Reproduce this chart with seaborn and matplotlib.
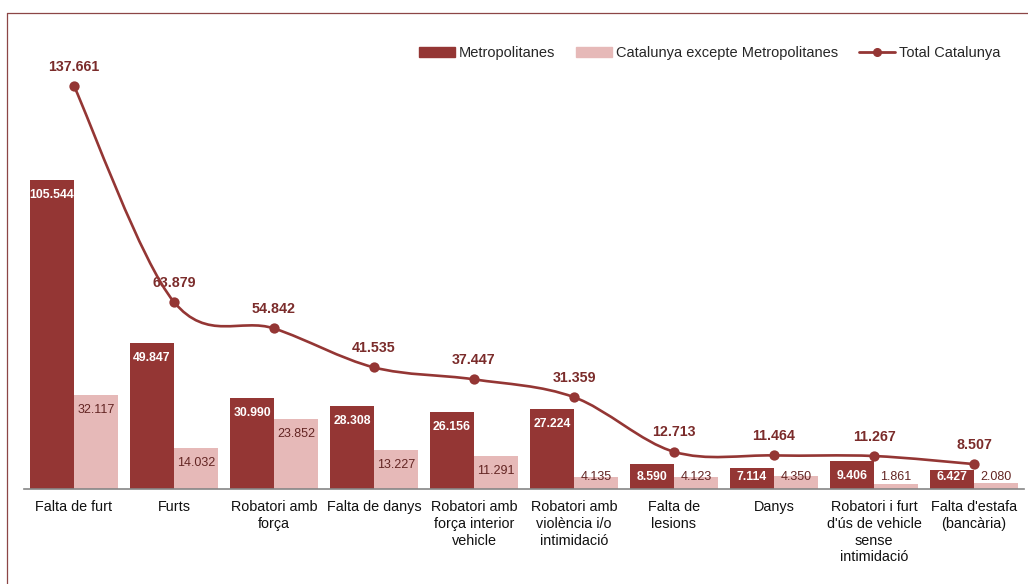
import numpy as np
import pandas as pd
import matplotlib
matplotlib.use("Agg")
import matplotlib.pyplot as plt
from matplotlib.path import Path
from matplotlib.patches import PathPatch, Patch
from matplotlib.lines import Line2D
import seaborn as sns

categories = ["Falta de furt", "Furts", "Robatori amb\nforça", "Falta de danys",
              "Robatori amb\nforça interior\nvehicle", "Robatori amb\nviolència i/o\nintimidació",
              "Falta de\nlesions", "Danys", "Robatori i furt\nd'ús de vehicle\nsense\nintimidació",
              "Falta d'estafa\n(bancària)"]
metropolitanes = [105544, 49847, 30990, 28308, 26156, 27224, 8590, 7114, 9406, 6427]
resta = [32117, 14032, 23852, 13227, 11291, 4135, 4123, 4350, 1861, 2080]
total = [137661, 63879, 54842, 41535, 37447, 31359, 12713, 11464, 11267, 8507]
series_names = ["Metropolitanes", "Catalunya excepte Metropolitanes", "Total Catalunya"]

DARK = "#943634"
LIGHT = "#E6B9B8"
LINE = "#943634"

sns.set_theme(style="white")
plt.rcParams["font.family"] = ["Liberation Sans", "DejaVu Sans"]

W, H = 1028, 584
fig = plt.figure(figsize=(W / 100, H / 100), dpi=100)
ax_left, ax_right, ax_bottom, ax_top = 24, 1024, 489, 30
ax = fig.add_axes([ax_left / W, (H - ax_bottom) / H, (ax_right - ax_left) / W, (ax_bottom - ax_top) / H])
ppu = 309 / 105544.0  # pixels per unit
ymax = (ax_bottom - ax_top) / ppu

def fmt(v):
    return f"{v:,}".replace(",", ".")

df = pd.DataFrame({
    "cat": categories * 2,
    "value": metropolitanes + resta,
    "serie": [series_names[0]] * len(categories) + [series_names[1]] * len(categories),
})
sns.barplot(data=df, x="cat", y="value", hue="serie", order=categories,
            hue_order=series_names[:2], palette=[DARK, LIGHT], saturation=1,
            width=0.88, ax=ax, legend=False, errorbar=None, linewidth=0)

ax.set_xlim(-0.5, len(categories) - 0.5)
ax.set_ylim(0, ymax)

# bar labels
px = 1 / ppu
for ci, cont in enumerate(ax.containers):
    for bar, v in zip(cont, [metropolitanes, resta][ci]):
        xc = bar.get_x() + bar.get_width() / 2
        yl = max(v - 15 * px, 12 * px)
        if ci == 0:
            ax.text(xc, yl, fmt(v), ha="center", va="center", color="white",
                    fontsize=8.8, fontweight="bold")
        else:
            ax.text(xc, yl, fmt(v), ha="center", va="center", color="#632523",
                    fontsize=9)

# smooth total line (Catmull-Rom as cubic Bezier path)
xs = np.arange(len(categories), dtype=float)
ys = np.array(total, dtype=float)
P = np.column_stack([xs, ys])
verts = [P[0]]
codes = [Path.MOVETO]
n = len(P)
for i in range(n - 1):
    p0 = P[i - 1] if i > 0 else P[i]
    p1, p2 = P[i], P[i + 1]
    p3 = P[i + 2] if i + 2 < n else P[i + 1]
    c1 = p1 + (p2 - p0) / 6
    c2 = p2 - (p3 - p1) / 6
    verts += [c1, c2, p2]
    codes += [Path.CURVE4] * 3
ax.add_patch(PathPatch(Path(verts, codes), fill=False, edgecolor=LINE, lw=1.9, zorder=4))
sns.scatterplot(x=xs, y=ys, color=LINE, s=55, edgecolor=LINE, linewidth=0, ax=ax, zorder=5)
for x, v in zip(xs, total):
    ax.annotate(fmt(v), (x, v), xytext=(0, 14), textcoords="offset points",
                ha="center", va="center", fontsize=10.3, fontweight="bold", color="#7B2C2B")

# axes styling
for s in ["top", "right", "left"]:
    ax.spines[s].set_visible(False)
ax.spines["bottom"].set_color("#868686")
ax.spines["bottom"].set_linewidth(1.2)
ax.set_yticks([])
ax.set_xlabel("")
ax.set_ylabel("")
ax.set_xticks(xs)
ax.set_xticklabels(categories, fontsize=10.4, color="#111111", linespacing=1.25)
ax.tick_params(axis="x", which="major", length=0, pad=8)
ax.set_xticks(np.arange(-0.5, len(categories), 1.0), minor=True)
ax.tick_params(axis="x", which="minor", length=5, width=1.1, color="#868686", direction="out")

handles = [Patch(facecolor=DARK, edgecolor=DARK),
           Patch(facecolor=LIGHT, edgecolor=LIGHT),
           Line2D([0], [0], color=LINE, lw=2, marker="o", markersize=5.5)]
fig.legend(handles, series_names, loc="center right", bbox_to_anchor=(1006 / W, 1 - 53 / H),
           ncol=3, frameon=False, fontsize=10.5, handlelength=2.45, handletextpad=0.27,
           columnspacing=1.45, borderaxespad=0)

# frame lines
border = "#8C4646"
fig.add_artist(Line2D([7 / W, 1], [1 - 13 / H, 1 - 13 / H], color=border, lw=0.9, transform=fig.transFigure))
fig.add_artist(Line2D([7 / W, 7 / W], [0, 1 - 13 / H], color=border, lw=0.9, transform=fig.transFigure))

fig.savefig("out.png", dpi=100)
